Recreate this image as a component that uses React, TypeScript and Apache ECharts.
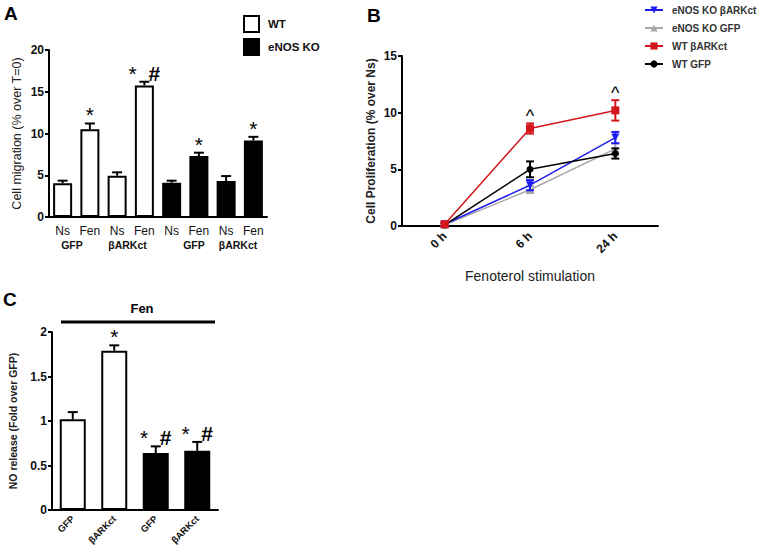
import React, { useEffect, useRef } from "react";
import * as echarts from "echarts";

const FONT = "'Liberation Sans', Arial, sans-serif";

// Panel A: cell migration
const catsA = ["Ns", "Fen", "Ns", "Fen", "Ns", "Fen", "Ns", "Fen"];
const groupsA = ["GFP", "βARKct", "GFP", "βARKct"];
const wtMig = [4.05, 10.5, 4.95, 15.75];
const wtMigErr = [0.3, 0.7, 0.4, 0.45];
const koMig = [4.1, 7.3, 4.3, 9.15];
const koMigErr = [0.25, 0.4, 0.6, 0.45];
const sigA = ["", "*", "", "* #", "", "*", "", "*"];

// Panel B: proliferation
const timeCats = ["0 h", "6 h", "24 h"];
const koBark = [0.15, 3.6, 7.8];
const koBarkErr = [0.15, 0.45, 0.5];
const koGfp = [0.1, 3.2, 6.8];
const koGfpErr = [0.1, 0.3, 0.5];
const wtBark = [0.15, 8.6, 10.2];
const wtBarkErr = [0.2, 0.45, 0.9];
const wtGfp = [0.1, 5.0, 6.4];
const wtGfpErr = [0.15, 0.7, 0.45];
const caretB = ["", "^", "^"];

// Panel C: NO release
const noCats = ["GFP", "βARKct", "GFP", "βARKct"];
const noWt = [1.02, 1.79];
const noKo = [0.64, 0.665];
const noErr = [0.08, 0.06, 0.075, 0.1];
const sigC = ["", "*", "* #", "* #"];

const axisLine = { lineStyle: { color: "#000", width: 2 } };
const axisTick = { lineStyle: { color: "#000", width: 2 }, length: 4 };
const tickLabel = { color: "#111", fontWeight: "bold", fontSize: 12, fontFamily: FONT };

const richMarks = {
  s: { fontSize: 21, fontFamily: FONT, fill: "#000", color: "#000" },
  h: { fontSize: 21, fontWeight: "bold", fontFamily: FONT, fill: "#000", color: "#000" },
  g: { fontSize: 14, fontFamily: FONT, fill: "#000", color: "#000" },
};
const toRich = (t: string) =>
  t
    .split(" ")
    .map((c) => (c === "*" ? "{s|*}" : "{h|#}"))
    .join("{g|   }");

const upperErr = (labels: string[], capHalf: number) => (params: any, api: any) => {
  const i = api.value(0);
  const v = api.value(1);
  const e = api.value(2);
  const p0 = api.coord([i, v]);
  const p1 = api.coord([i, v + e]);
  const children: any[] = [
    { type: "line", shape: { x1: p0[0], y1: p0[1], x2: p1[0], y2: p1[1] }, style: { stroke: "#000", lineWidth: 2 } },
    { type: "line", shape: { x1: p1[0] - capHalf, y1: p1[1], x2: p1[0] + capHalf, y2: p1[1] }, style: { stroke: "#000", lineWidth: 2 } },
  ];
  const t = labels[params.dataIndex];
  if (t) {
    children.push({
      type: "text",
      x: p1[0],
      y: p1[1] + 2,
      style: { text: toRich(t), rich: richMarks, fill: "#000", textAlign: "center", textVerticalAlign: "bottom", verticalAlign: "bottom" },
    });
  }
  return { type: "group", children };
};

const bothErr = (color: string, labels: string[] | null) => (params: any, api: any) => {
  const i = api.value(0);
  const v = api.value(1);
  const e = api.value(2);
  const pt = api.coord([i, v + e]);
  const pb = api.coord([i, v - e]);
  const capHalf = 4;
  const st = { stroke: color, lineWidth: 2 };
  const children: any[] = [
    { type: "line", shape: { x1: pt[0], y1: pt[1], x2: pb[0], y2: pb[1] }, style: st },
    { type: "line", shape: { x1: pt[0] - capHalf, y1: pt[1], x2: pt[0] + capHalf, y2: pt[1] }, style: st },
    { type: "line", shape: { x1: pb[0] - capHalf, y1: pb[1], x2: pb[0] + capHalf, y2: pb[1] }, style: st },
  ];
  const t = labels ? labels[params.dataIndex] : "";
  if (t) {
    children.push({
      type: "text",
      x: pt[0],
      y: pt[1] + 2,
      style: { text: t, fill: "#000", font: `18px ${FONT}`, textAlign: "center", textVerticalAlign: "bottom", verticalAlign: "bottom" },
    });
  }
  return { type: "group", children };
};

const dash = (n: number) => Array.from({ length: n }, () => "-" as any);

export default function App() {
  const ref = useRef<HTMLDivElement>(null);
  useEffect(() => {
    document.body.style.margin = "0";
    const chart = echarts.init(ref.current!, undefined, { renderer: "svg" });
    const migAll = [...wtMig, ...koMig];
    const migErrAll = [...wtMigErr, ...koMigErr];
    const noAll = [...noWt, ...noKo];

    const lineSeries = (name: string, data: number[], color: string, symbol: string, size: number, z: number) => ({
      name,
      type: "line",
      xAxisIndex: 1,
      yAxisIndex: 1,
      data,
      symbol,
      symbolSize: size,
      z,
      lineStyle: { color, width: 1.5 },
      itemStyle: { color },
    });
    const errSeries = (data: number[], err: number[], color: string, labels: string[] | null, z: number) => ({
      type: "custom",
      xAxisIndex: 1,
      yAxisIndex: 1,
      z,
      data: data.map((v, i) => [i, v, err[i]]),
      renderItem: bothErr(color, labels),
    });

    const option: any = {
      animation: false,
      textStyle: { fontFamily: FONT },
      grid: [
        { left: 49, top: 50, width: 218, height: 167, containLabel: false },
        { left: 402, top: 56, width: 256, height: 170, containLabel: false },
        { left: 52, top: 332, width: 166, height: 178, containLabel: false },
      ],
      xAxis: [
        {
          gridIndex: 0,
          type: "category",
          data: catsA,
          axisLine,
          axisTick: { ...axisTick, alignWithLabel: true },
          axisLabel: { color: "#111", fontSize: 12, fontFamily: FONT, margin: 8, interval: 0 },
        },
        {
          gridIndex: 1,
          type: "category",
          data: timeCats,
          axisLine,
          axisTick: { ...axisTick, alignWithLabel: true },
          axisLabel: { ...tickLabel, rotate: 45, margin: 8 },
          name: "Fenoterol stimulation",
          nameLocation: "middle",
          nameGap: 43,
          nameTextStyle: { fontSize: 14, color: "#222", fontFamily: FONT },
        },
        {
          gridIndex: 2,
          type: "category",
          data: noCats,
          axisLine,
          axisTick: { ...axisTick },
          axisLabel: { ...tickLabel, fontSize: 9.5, rotate: 45, margin: 7, interval: 0 },
        },
      ],
      yAxis: [
        {
          gridIndex: 0,
          type: "value",
          min: 0,
          max: 20,
          interval: 5,
          axisLine: { show: true, ...axisLine },
          axisTick: { show: true, ...axisTick },
          axisLabel: { ...tickLabel, margin: 5 },
          splitLine: { show: false },
          name: "Cell migration (% over T=0)",
          nameLocation: "middle",
          nameGap: 26,
          nameTextStyle: { fontSize: 12.5, color: "#222", fontFamily: FONT },
        },
        {
          gridIndex: 1,
          type: "value",
          min: 0,
          max: 15,
          interval: 5,
          axisLine: { show: true, ...axisLine },
          axisTick: { show: true, ...axisTick },
          axisLabel: { ...tickLabel, margin: 5 },
          splitLine: { show: false },
          name: "Cell Proliferation (% over Ns)",
          nameLocation: "middle",
          nameGap: 25,
          nameTextStyle: { fontSize: 12, fontWeight: "bold", color: "#222", fontFamily: FONT },
        },
        {
          gridIndex: 2,
          type: "value",
          min: 0,
          max: 2,
          interval: 0.5,
          axisLine: { show: true, ...axisLine },
          axisTick: { show: true, ...axisTick },
          axisLabel: { ...tickLabel, margin: 5 },
          splitLine: { show: false },
          name: "NO release (Fold over GFP)",
          nameLocation: "middle",
          nameGap: 34,
          nameTextStyle: { fontSize: 10.5, fontWeight: "bold", color: "#222", fontFamily: FONT },
        },
      ],
      legend: [
        {
          left: 238,
          top: 10,
          orient: "vertical",
          icon: "rect",
          itemWidth: 15,
          itemHeight: 16,
          itemGap: 5,
          data: [
            { name: "WT", itemStyle: { color: "#fff", borderColor: "#000", borderWidth: 2 } },
            { name: "eNOS KO" },
          ],
          textStyle: { fontSize: 11.5, fontWeight: "bold", color: "#111", fontFamily: FONT, padding: [0, 0, 0, 4] },
          selectedMode: false,
        },
        {
          left: 639,
          top: 0,
          orient: "vertical",
          itemWidth: 18,
          itemHeight: 9,
          itemGap: 8,
          data: ["eNOS KO βARKct", "eNOS KO GFP", "WT βARKct", "WT GFP"],
          textStyle: { fontSize: 10, fontWeight: "bold", color: "#333", fontFamily: FONT, padding: [0, 0, 0, 4] },
          selectedMode: false,
        },
      ],
      series: [
        {
          name: "WT",
          type: "bar",
          xAxisIndex: 0,
          yAxisIndex: 0,
          data: [...wtMig, ...dash(koMig.length)],
          barWidth: 19,
          barGap: "-100%",
          itemStyle: { color: "#fff", borderColor: "#000", borderWidth: 2 },
        },
        {
          name: "eNOS KO",
          type: "bar",
          xAxisIndex: 0,
          yAxisIndex: 0,
          data: [...dash(wtMig.length), ...koMig],
          barWidth: 19,
          barGap: "-100%",
          itemStyle: { color: "#000", borderColor: "#000", borderWidth: 2 },
        },
        {
          type: "custom",
          xAxisIndex: 0,
          yAxisIndex: 0,
          z: 5,
          data: migAll.map((v, i) => [i, v, migErrAll[i]]),
          renderItem: upperErr(sigA, 5),
        },
        lineSeries("eNOS KO GFP", koGfp, "#a8a8a8", "triangle", 8, 3),
        lineSeries("eNOS KO βARKct", koBark, "#1c1cf0", "path://M0,0 L10,0 L5,9 Z", 8, 4),
        lineSeries("WT GFP", wtGfp, "#000000", "circle", 7, 5),
        lineSeries("WT βARKct", wtBark, "#d4161c", "rect", 8, 6),
        errSeries(koGfp, koGfpErr, "#a8a8a8", null, 3),
        errSeries(koBark, koBarkErr, "#1c1cf0", null, 4),
        errSeries(wtGfp, wtGfpErr, "#000000", null, 5),
        errSeries(wtBark, wtBarkErr, "#d4161c", caretB, 6),
        {
          name: "WT C",
          type: "bar",
          xAxisIndex: 2,
          yAxisIndex: 2,
          data: [...noWt, ...dash(noKo.length)],
          barWidth: 26,
          barGap: "-100%",
          itemStyle: { color: "#fff", borderColor: "#000", borderWidth: 2 },
        },
        {
          name: "KO C",
          type: "bar",
          xAxisIndex: 2,
          yAxisIndex: 2,
          data: [...dash(noWt.length), ...noKo],
          barWidth: 26,
          barGap: "-100%",
          itemStyle: { color: "#000", borderColor: "#000", borderWidth: 2 },
        },
        {
          type: "custom",
          xAxisIndex: 2,
          yAxisIndex: 2,
          z: 5,
          data: noAll.map((v, i) => [i, v, noErr[i]]),
          renderItem: upperErr(sigC, 5),
        },
      ],
      graphic: [
        { type: "text", left: 4, top: 4, style: { text: "A", font: `bold 19px ${FONT}`, fill: "#000" } },
        { type: "text", left: 367, top: 6, style: { text: "B", font: `bold 19px ${FONT}`, fill: "#000" } },
        { type: "text", left: 3, top: 290, style: { text: "C", font: `bold 19px ${FONT}`, fill: "#000" } },
        ...groupsA.map((g, k) => ({
          type: "text",
          x: [72, 127.5, 194, 238][k],
          y: 245,
          style: { text: g, font: `bold 10.5px ${FONT}`, fill: "#111", textAlign: "center", textVerticalAlign: "middle", verticalAlign: "middle" },
        })),
        { type: "text", x: 142, y: 308, style: { text: "Fen", font: `bold 13px ${FONT}`, fill: "#000", textAlign: "center", textVerticalAlign: "middle", verticalAlign: "middle" } },
        { type: "line", shape: { x1: 61, y1: 322, x2: 215, y2: 322 }, style: { stroke: "#000", lineWidth: 3 } },
      ],
    };
    chart.setOption(option);
    return () => chart.dispose();
  }, []);
  return <div ref={ref} style={{ width: 759, height: 549 }} />;
}
